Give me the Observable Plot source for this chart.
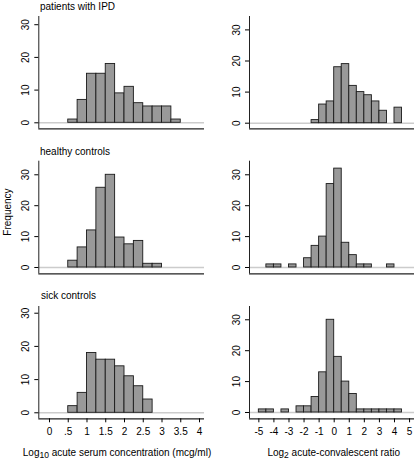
<!DOCTYPE html>
<html><head><meta charset="utf-8">
<script src="https://cdn.jsdelivr.net/npm/d3@7"></script>
<script src="https://cdn.jsdelivr.net/npm/@observablehq/plot@0.6"></script>
<style>
body{margin:0;background:#fff;}
#root{position:relative;width:416px;height:462px;font-family:"Liberation Sans",Arial,sans-serif;color:#000;overflow:hidden;background:#fff;}
.p{position:absolute;}
.t{position:absolute;font-size:10px;line-height:12px;white-space:nowrap;}
.c{transform:translate(-50%,-50%);}
.sub{font-size:8.5px;position:relative;top:2.5px;}
</style></head><body><div id="root"></div>
<script>
// Data
const concBins = [0.5,0.75,1,1.25,1.5,1.75,2,2.25,2.5,2.75,3,3.25];
const concBinWidth = 0.25;
const concIPD = [1,7,15,15,18,9,11,6,5,5,5,1];
const concHealthy = [2.2,6.5,12,25.8,30,9.7,7.5,8.6,1.2,1.2];
const concSick = [2,6,18,16,16,14,11,8,4];

const ratioBins = [-5,-4.5,-4,-3.5,-3,-2.5,-2,-1.5,-1,-0.5,0,0.5,1,1.5,2,2.5,3,3.5,4];
const ratioBinWidth = 0.5;
const ratioIPD = [0,0,0,0,0,0,0,1,6,7,18,19,12,10,9,7,4,0,5];
const ratioHealthy = [0,1,1,0,1,0,3,7,10,27,32,8,4,1,1,0,0,1,0];
const ratioSick = [1,1,0,1,0,2,2,5,13,30,18,10,6,1,1,1,1,1,1];

const yTicks = [0,10,20,30];
const concTicks = [0,0.5,1,1.5,2,2.5,3,3.5,4];
const concTickLabels = ["0",".5","1","1.5","2","2.5","3","3.5","4"];
const ratioTicks = [-5,-4,-3,-2,-1,0,1,2,3,4,5];
const ratioTickLabels = ["-5","-4","-3","-2","-1","0","1","2","3","4","5"];

const panelTitles = ["patients with IPD","healthy controls","sick controls"];

const root = document.getElementById("root");

function panel(o) {
  const data = o.bins.map((b,i)=>({x1:b, x2:b+o.binW, y1:0, y2:o.counts[i]})).filter(d=>d.y2>0);
  const marks = [
    Plot.ruleY([0], {stroke:"#cccccc", strokeWidth:1.6}),
    Plot.rect(data, {x1:"x1", x2:"x2", y1:"y1", y2:"y2", fill:"#999999", stroke:"#1a1a1a", strokeWidth:0.9}),
    Plot.ruleX([o.xDomain[0]], {stroke:"#222", strokeWidth:1}),
    Plot.ruleY([o.yDomain[0]], {stroke:"#222", strokeWidth:1.2}),
    Plot.axisY({ticks:yTicks, tickSize:4, tickRotate:-90, tickPadding:6, label:null, tickFormat:d=>String(d)})
  ];
  if (o.xTicks) {
    const m = new Map(o.xTicks.map((t,i)=>[t,o.xLabels[i]]));
    marks.push(Plot.axisX({ticks:o.xTicks, tickSize:4, tickPadding:5, label:null, tickFormat:d=>m.get(d)}));
  }
  const svg = Plot.plot({
    width:o.width, height:o.height,
    marginLeft:o.mL, marginRight:o.mR, marginTop:o.mT, marginBottom:o.mB,
    x:{domain:o.xDomain, axis:null},
    y:{domain:o.yDomain, axis:null},
    style:{background:"transparent", fontSize:"10px", fontFamily:"'Liberation Sans',Arial,sans-serif", color:"#000", overflow:"visible"},
    marks
  });
  const div = document.createElement("div");
  div.className = "p";
  div.style.left = o.left+"px"; div.style.top = o.top+"px";
  div.style.width = o.width+"px"; div.style.height = o.height+"px";
  div.appendChild(svg);
  root.appendChild(div);
}

const leftX = [-0.2853, 4.1333];
const rightX = [-5.62, 5.328];
const L = {left:0, width:208, mL:38.3, mR:4, xDomain:leftX, bins:concBins, binW:concBinWidth};
const R = {left:208, width:208, mL:41, mR:2, xDomain:rightX, bins:ratioBins, binW:ratioBinWidth};

panel({...L, top:0, height:140, mT:16, mB:11.7, yDomain:[-1.835,32.51], counts:concIPD});
panel({...R, top:0, height:140, mT:16, mB:11.7, yDomain:[-1.80,34.31], counts:ratioIPD});
panel({...L, top:140, height:150, mT:20.7, mB:16.7, yDomain:[-2.04,34.40], counts:concHealthy});
panel({...R, top:140, height:150, mT:20.7, mB:16.7, yDomain:[-2.04,34.40], counts:ratioHealthy});
panel({...L, top:290, height:150, mT:16, mB:21.7, yDomain:[-1.81,32.02], counts:concSick, xTicks:concTicks, xLabels:concTickLabels});
panel({...R, top:290, height:150, mT:16, mB:21.7, yDomain:[-2.04,34.30], counts:ratioSick, xTicks:ratioTicks, xLabels:ratioTickLabels});

function text(html, x, y, cls, extra) {
  const d = document.createElement("div");
  d.className = "t " + (cls||"");
  d.innerHTML = html;
  d.style.left = x+"px"; d.style.top = y+"px";
  if (extra) d.style.transform = extra;
  root.appendChild(d);
}
text(panelTitles[0], 40, 1);
text(panelTitles[1], 40, 145.5);
text(panelTitles[2], 41, 289.5);
text("Frequency", 7.5, 211.7, "", "translate(-50%,-50%) rotate(-90deg)");
text("Log<span class='sub'>10</span> acute serum concentration (mcg/ml)", 117, 452.5, "c");
text("Log<span class='sub'>2</span> acute-convalescent ratio", 333.7, 452.5, "c");
</script></body></html>
